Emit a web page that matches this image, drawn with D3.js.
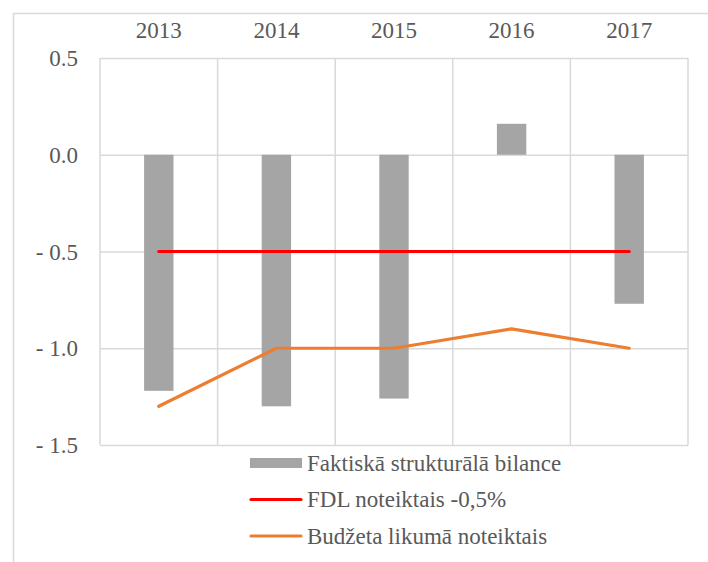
<!DOCTYPE html>
<html>
<head>
<meta charset="utf-8">
<script src="https://cdn.jsdelivr.net/npm/d3@7"></script>
<style>
  body { margin: 0; background: #fff; }
</style>
</head>
<body>
<div id="chart"></div>
<script>
// data
var years = ["2013", "2014", "2015", "2016", "2017"];
var actualBalance = [-1.22, -1.3, -1.26, 0.16, -0.77];
var fdlTarget = [-0.5, -0.5, -0.5, -0.5, -0.5];
var budgetLaw = [-1.3, -1.0, -1.0, -0.9, -1.0];
var yTicks = [0.5, 0, -0.5, -1.0, -1.5];
var legendLabels = ["Faktiskā strukturālā bilance", "FDL noteiktais -0,5%", "Budžeta likumā noteiktais"];

var width = 708, height = 562;
var plot = { left: 100, right: 688, top: 58, bottom: 445 };
var fontFamily = "Liberation Serif, DejaVu Serif, Noto Serif, serif";
var textColor = "#595959";

var svg = d3.select("#chart")
    .append("svg")
    .attr("width", width)
    .attr("height", height);

// chart area border (runs off the right and bottom edge)
svg.append("rect")
    .attr("x", 13.5)
    .attr("y", 13.5)
    .attr("width", 720)
    .attr("height", 580)
    .attr("fill", "none")
    .attr("stroke", "#d9d9d9")
    .attr("stroke-width", 1.5);

var xScale = d3.scaleBand()
    .domain(years)
    .range([plot.left, plot.right])
    .padding(0);

var yScale = d3.scaleLinear()
    .domain([-1.5, 0.5])
    .range([plot.bottom, plot.top]);

// horizontal gridlines + y labels
var yAxis = d3.axisLeft(yScale)
    .tickValues(yTicks)
    .tickSize(-(plot.right - plot.left))
    .tickPadding(22)
    .tickFormat(function(d) {
        return d < 0 ? "- " + Math.abs(d).toFixed(1) : d.toFixed(1);
    });

var gy = svg.append("g")
    .attr("transform", "translate(" + plot.left + ",0)")
    .call(yAxis);
gy.select(".domain").remove();
gy.selectAll("line").attr("stroke", "#d9d9d9").attr("stroke-width", 1.5);
gy.selectAll("text")
    .style("font-family", fontFamily)
    .attr("fill", textColor)
    .attr("font-size", "23px")
    .attr("dy", "0.33em");

// vertical gridlines at category boundaries
var bounds = years.map(function(d) { return xScale(d); }).concat([plot.right]);
svg.append("g")
    .selectAll("line")
    .data(bounds)
    .enter()
    .append("line")
    .attr("x1", function(d) { return d; })
    .attr("x2", function(d) { return d; })
    .attr("y1", plot.top)
    .attr("y2", plot.bottom)
    .attr("stroke", "#d9d9d9")
    .attr("stroke-width", 1.5);

// x labels on top
var xAxis = d3.axisTop(xScale).tickSize(0).tickPadding(0);
var gx = svg.append("g")
    .attr("transform", "translate(0,38)")
    .call(xAxis);
gx.select(".domain").remove();
gx.selectAll("text")
    .style("font-family", fontFamily)
    .attr("fill", textColor)
    .attr("font-size", "23px")
    .attr("dy", "0");

// bars
var barW = xScale.bandwidth() * 0.25;
svg.append("g")
    .selectAll("rect")
    .data(actualBalance)
    .enter()
    .append("rect")
    .attr("x", function(d, i) { return xScale(years[i]) + xScale.bandwidth() / 2 - barW / 2; })
    .attr("y", function(d) { return yScale(Math.max(0, d)); })
    .attr("width", barW)
    .attr("height", function(d) { return Math.abs(yScale(d) - yScale(0)); })
    .attr("fill", "#a5a5a5");

// lines
var line = d3.line()
    .x(function(d, i) { return xScale(years[i]) + xScale.bandwidth() / 2; })
    .y(function(d) { return yScale(d); });

svg.append("path")
    .datum(fdlTarget)
    .attr("d", line)
    .attr("fill", "none")
    .attr("stroke", "#ff0000")
    .attr("stroke-width", 3.2)
    .attr("stroke-linecap", "round");

svg.append("path")
    .datum(budgetLaw)
    .attr("d", line)
    .attr("fill", "none")
    .attr("stroke", "#ed7d31")
    .attr("stroke-width", 3.2)
    .attr("stroke-linecap", "round")
    .attr("stroke-linejoin", "round");

// legend
var legendColors = ["#a5a5a5", "#ff0000", "#ed7d31"];
var legend = svg.append("g")
    .selectAll("g")
    .data(legendLabels)
    .enter()
    .append("g")
    .attr("transform", function(d, i) { return "translate(250," + (463 + i * 36.5) + ")"; });

legend.each(function(d, i) {
    var g = d3.select(this);
    if (i == 0) {
        g.append("rect")
            .attr("x", 0).attr("y", -5)
            .attr("width", 52).attr("height", 10)
            .attr("fill", legendColors[i]);
    } else {
        g.append("line")
            .attr("x1", 1).attr("x2", 51)
            .attr("y1", 0).attr("y2", 0)
            .attr("stroke", legendColors[i])
            .attr("stroke-width", 3.2)
            .attr("stroke-linecap", "round");
    }
    g.append("text")
        .attr("x", 57)
        .attr("y", 0)
        .attr("dy", "0.33em")
        .style("font-family", fontFamily)
        .attr("fill", textColor)
        .attr("font-size", "23px")
        .text(d);
});
</script>
</body>
</html>
